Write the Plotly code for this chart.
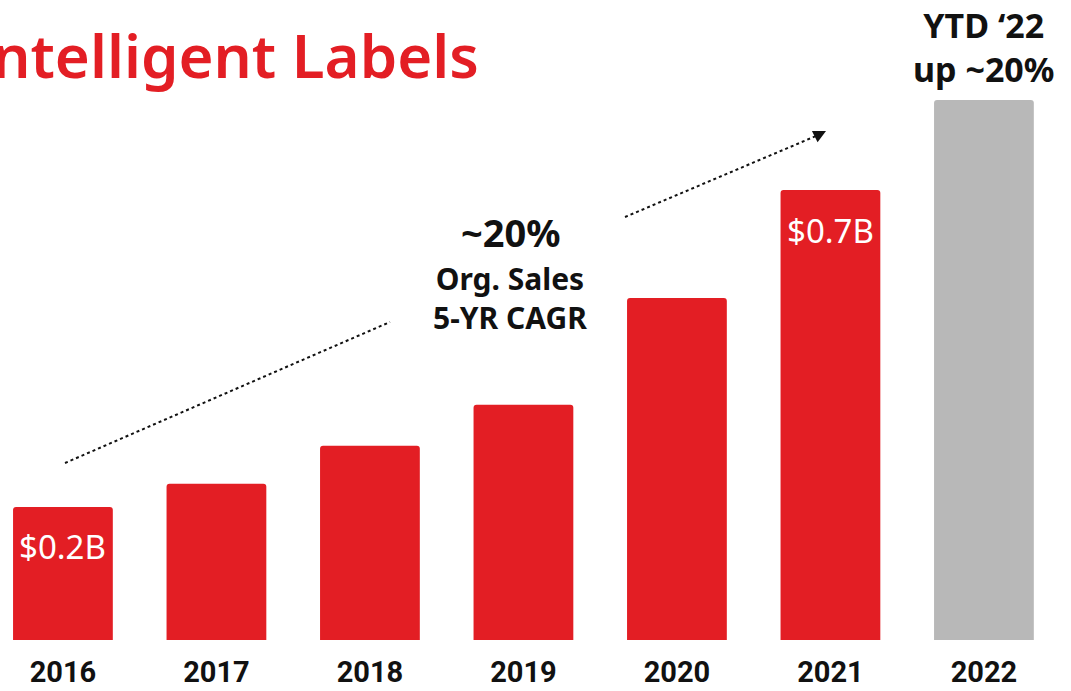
import plotly.graph_objects as go

years = ["2016", "2017", "2018", "2019", "2020", "2021", "2022"]
sales_b = [0.207, 0.243, 0.302, 0.366, 0.532, 0.70, 0.84]
bar_colors = ["#E31E24"] * 6 + ["#B8B8B8"]
value_labels = {0: "$0.2B", 5: "$0.7B"}

xs = list(range(len(years)))
W, H = 1071, 691
PLOT_H = 640
x0 = -0.41
x1 = x0 + W / 153.5
ymax = 0.9956


def py_paper(py):
    return (PLOT_H - py) / PLOT_H


fig = go.Figure()
fig.add_trace(go.Bar(x=xs, y=sales_b, marker=dict(color=bar_colors, line=dict(width=0)),
                     width=0.65, hoverinfo="skip"))

ann = []
for i, lab in value_labels.items():
    ann.append(dict(x=xs[i], y=sales_b[i], xref="x", yref="y", text=lab, showarrow=False,
                    yanchor="middle", yshift=-40,
                    font=dict(family="Noto Sans", size=33, color="white")))

# title
ann.append(dict(x=481 / W, y=py_paper(55), xref="paper", yref="paper", xanchor="right", yanchor="middle",
                text="Intelligent Labels", showarrow=False,
                font=dict(family="Noto Sans", size=60, color="#E31E24", weight=600)))
# CAGR text
ann.append(dict(x=(510 / W), y=py_paper(232), xref="paper", yref="paper", text="~20%", showarrow=False,
                yanchor="middle",
                font=dict(family="Noto Sans", size=38, color="#111", weight=700)))
ann.append(dict(x=(510 / W), y=py_paper(298), xref="paper", yref="paper", text="Org. Sales<br>5-YR CAGR",
                showarrow=False, yanchor="middle",
                font=dict(family="Noto Sans", size=30, color="#111", weight=700)))
# YTD text
ann.append(dict(x=xs[6], y=py_paper(47), xref="x", yref="paper", text="YTD ‘22<br>up ~20%", showarrow=False,
                yanchor="middle",
                font=dict(family="Noto Sans", size=34, color="#111", weight=700)))


def px_to_data(px, py):
    return px / 153.5 + x0, (PLOT_H - py) / PLOT_H * ymax


a = px_to_data(65, 463)
b = px_to_data(390, 322)
c = px_to_data(625, 217)
d = px_to_data(816, 136)
e = px_to_data(826, 131)

shapes = [
    dict(type="line", xref="x", yref="y", x0=a[0], y0=a[1], x1=b[0], y1=b[1],
         line=dict(color="#111", width=2, dash="dot")),
    dict(type="line", xref="x", yref="y", x0=c[0], y0=c[1], x1=d[0], y1=d[1],
         line=dict(color="#111", width=2, dash="dot")),
]
ann.append(dict(x=e[0], y=e[1], ax=d[0], ay=d[1], xref="x", yref="y", axref="x", ayref="y",
                text="", showarrow=True, arrowhead=2, arrowsize=1.4, arrowwidth=1.8, arrowcolor="#111"))

fig.update_layout(
    width=W, height=H,
    margin=dict(l=0, r=0, t=0, b=H - PLOT_H),
    paper_bgcolor="white", plot_bgcolor="white",
    showlegend=False,
    barcornerradius=3,
    annotations=ann, shapes=shapes,
    xaxis=dict(range=[x0, x1], tickvals=xs, ticktext=years, showgrid=False, zeroline=False,
               showline=False, ticks="", ticklabelstandoff=12, automargin=False,
               tickfont=dict(family="Roboto", size=29, color="#111", weight=700)),
    yaxis=dict(range=[0, ymax], visible=False),
)

fig.write_html("out.html", config={"displayModeBar": False},
               post_script="document.body.style.margin='0';document.body.style.overflow='hidden';")
